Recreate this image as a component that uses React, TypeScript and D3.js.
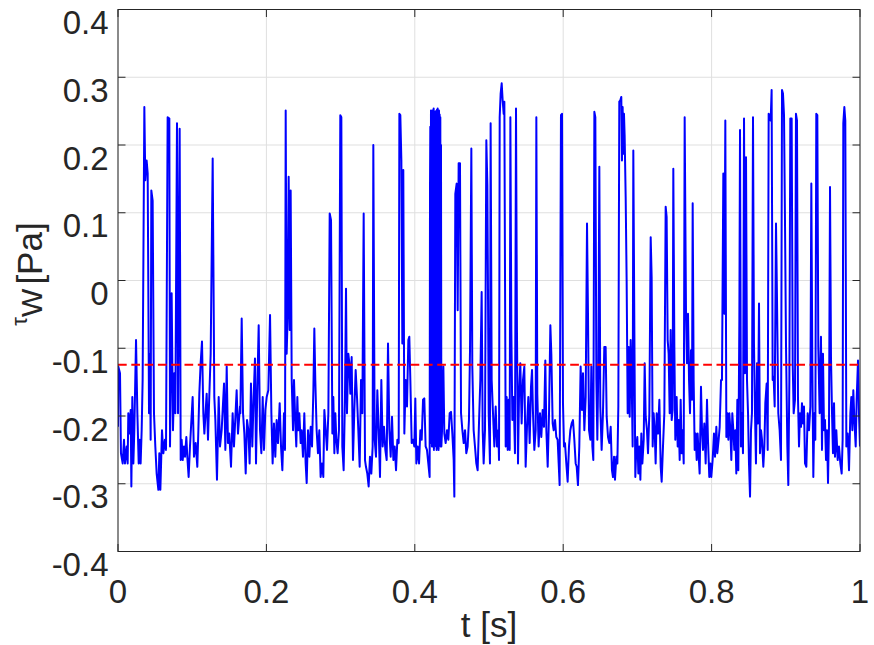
import React from "react";
import * as d3 from "d3";

// Wall shear stress samples [t (s), tau_w (Pa)]
const seg1: [number, number][] = [
  [0, -0.216], [0.0004, -0.127], [0.0027, -0.137], [0.004, -0.255], [0.0063, -0.27], [0.0081, -0.235],
  [0.0094, -0.27], [0.0117, -0.245], [0.013, -0.27], [0.0139, -0.196], [0.0153, -0.226], [0.0171, -0.191],
  [0.018, -0.304], [0.0193, -0.172], [0.0207, -0.27], [0.022, -0.221], [0.0243, -0.088], [0.0261, -0.196],
  [0.0279, -0.27], [0.0292, -0.235], [0.0305, -0.27], [0.0319, -0.221], [0.0332, -0.147], [0.0355, 0.256],
  [0.0368, 0.148], [0.0386, 0.177], [0.04, 0.158], [0.0418, -0.196], [0.0431, -0.108], [0.044, -0.235],
  [0.0449, 0.133], [0.0467, 0.118], [0.0485, -0.196], [0.0503, -0.245], [0.0521, -0.285], [0.0544, -0.309],
  [0.0557, -0.255], [0.0571, -0.309], [0.0593, -0.221], [0.0611, -0.255], [0.0633, -0.235], [0.0647, -0.25],
  [0.0669, 0.241], [0.0692, 0.239], [0.0701, -0.245], [0.0723, -0.019], [0.0741, -0.221], [0.0759, -0.137],
  [0.0773, -0.196], [0.0795, 0.232], [0.0809, -0.196], [0.0831, 0.224], [0.0845, -0.265], [0.0858, -0.235],
  [0.0872, -0.265], [0.0889, -0.245], [0.0903, -0.26], [0.0921, -0.231], [0.0934, -0.26], [0.0952, -0.29],
  [0.097, -0.245], [0.1006, -0.172], [0.1024, -0.26], [0.1047, -0.24], [0.1069, -0.275], [0.1083, -0.221],
  [0.1096, -0.167], [0.1114, -0.122], [0.1132, -0.09], [0.115, -0.196], [0.1164, -0.226], [0.1195, -0.167],
  [0.1213, -0.235], [0.1226, -0.186], [0.1249, -0.108], [0.1276, 0.18], [0.1298, -0.172], [0.1312, -0.206],
  [0.1334, -0.294], [0.1357, -0.172], [0.1375, -0.245], [0.1397, -0.221], [0.1429, -0.152], [0.1447, -0.25],
  [0.1465, -0.127], [0.1482, -0.24], [0.15, -0.226], [0.1523, -0.275], [0.1545, -0.196], [0.1563, -0.245],
  [0.1599, -0.162], [0.1617, -0.226], [0.1644, -0.186],
];

const seg2: [number, number][] = [
  [0.1649, -0.196], [0.1667, -0.056], [0.1685, -0.196], [0.1703, -0.226], [0.1721, -0.285], [0.1739, -0.206],
  [0.1757, -0.221], [0.1774, -0.27], [0.1792, -0.152], [0.181, -0.245], [0.1828, -0.172], [0.1846, -0.115],
  [0.186, -0.27], [0.1878, -0.157], [0.1896, -0.066], [0.1914, -0.221], [0.1932, -0.255], [0.195, -0.172],
  [0.1968, -0.25], [0.1986, -0.191], [0.2004, -0.172], [0.2026, -0.162], [0.2049, -0.051], [0.2067, -0.196],
  [0.2084, -0.27], [0.2102, -0.211], [0.212, -0.26], [0.2138, -0.206], [0.2156, -0.24], [0.2179, -0.181],
  [0.2197, -0.245], [0.2215, -0.28], [0.2237, -0.196], [0.2251, -0.25], [0.226, 0.251], [0.2273, -0.108],
  [0.2287, -0.051], [0.23, 0.153], [0.2314, -0.073], [0.2327, 0.133], [0.2341, -0.147], [0.2359, -0.221],
  [0.2372, -0.147], [0.239, -0.211], [0.2403, -0.245], [0.2417, -0.172], [0.243, -0.221], [0.2444, -0.196],
  [0.2462, -0.24], [0.2475, -0.221], [0.2493, -0.26], [0.2511, -0.196], [0.2529, -0.27], [0.2543, -0.299],
  [0.2561, -0.221], [0.2579, -0.26], [0.2597, -0.216], [0.2615, -0.245], [0.2633, -0.162], [0.2646, -0.071],
  [0.2659, -0.147], [0.2677, -0.221], [0.2695, -0.255], [0.2713, -0.221], [0.2731, -0.29], [0.2749, -0.27],
  [0.2767, -0.29], [0.2781, -0.191], [0.2799, -0.221], [0.2817, -0.25], [0.2835, -0.196], [0.2853, 0.099],
  [0.2871, 0.089], [0.2889, -0.226], [0.2902, -0.172], [0.2916, -0.255], [0.2929, -0.196], [0.2943, -0.235],
  [0.296, -0.255], [0.2978, -0.221], [0.2996, 0.244], [0.301, 0.241], [0.3023, -0.245], [0.3041, -0.28],
  [0.3059, -0.172], [0.3073, -0.012], [0.3086, -0.196], [0.3104, -0.108], [0.3118, -0.122], [0.3131, -0.167],
  [0.3149, -0.113], [0.3167, -0.265], [0.3185, -0.191], [0.3203, -0.132], [0.3221, -0.172], [0.3239, -0.221],
  [0.3257, -0.275], [0.3275, -0.147], [0.3293, -0.196], [0.3311, 0.099], [0.3329, -0.265],
];

const seg3: [number, number][] = [
  [0.3342, -0.275], [0.336, -0.285], [0.3378, -0.304], [0.3396, -0.26], [0.3414, -0.285], [0.3432, -0.245],
  [0.3441, 0.2], [0.3459, -0.235], [0.3477, -0.26], [0.3495, -0.162], [0.3513, -0.221], [0.3531, -0.29],
  [0.3549, -0.147], [0.3567, -0.245], [0.3585, -0.216], [0.3603, -0.25], [0.3621, -0.265], [0.3639, -0.093],
  [0.3657, -0.221], [0.3675, -0.26], [0.3693, -0.201], [0.3711, -0.265], [0.3729, -0.245], [0.3747, -0.28],
  [0.3765, -0.235], [0.3783, -0.24], [0.3792, 0.246], [0.3805, 0.244], [0.3819, 0.177], [0.3832, -0.093],
  [0.3845, 0.163], [0.3859, -0.226], [0.3877, -0.147], [0.3895, -0.186], [0.3913, -0.088], [0.3926, -0.083],
  [0.394, -0.147], [0.3958, -0.24], [0.3976, -0.235], [0.3994, -0.245], [0.4007, -0.174], [0.4021, -0.27],
  [0.4039, -0.245], [0.4057, -0.27], [0.4075, -0.221], [0.4093, -0.235], [0.4111, -0.176], [0.4128, -0.174],
  [0.4146, -0.245], [0.4164, -0.25], [0.4182, -0.27], [0.42, -0.29], [0.4205, 0.14], [0.4209, 0.227],
  [0.4213, -0.2], [0.4218, 0.251], [0.4222, -0.24], [0.4227, 0.25], [0.4231, -0.245], [0.4236, 0.251],
  [0.424, -0.23], [0.4245, 0.248], [0.4249, -0.245], [0.4254, 0.254], [0.4258, -0.25], [0.4263, 0.247],
  [0.4267, -0.24], [0.4272, 0.249], [0.4276, -0.238], [0.4281, 0.25], [0.4285, -0.245], [0.429, 0.246],
  [0.4294, -0.25], [0.4299, 0.252], [0.4303, -0.245], [0.4308, 0.254], [0.4312, -0.24], [0.4317, 0.25],
  [0.4321, -0.25], [0.4326, 0.251], [0.433, -0.235], [0.4335, 0.245], [0.4339, -0.24], [0.4344, 0.241],
  [0.4348, -0.245], [0.4353, 0.2], [0.4358, -0.245], [0.4367, -0.221], [0.4385, -0.127], [0.4398, -0.226],
  [0.4416, -0.24], [0.4434, -0.221], [0.4452, -0.235], [0.447, -0.196], [0.4488, -0.194], [0.4506, -0.226],
  [0.4524, -0.265], [0.4533, -0.319], [0.4546, 0.128], [0.4564, 0.143], [0.4578, -0.044], [0.4591, 0.173],
  [0.4609, 0.173], [0.4623, -0.196], [0.4641, -0.221], [0.4659, -0.24], [0.4677, -0.221], [0.4694, -0.255],
  [0.4712, -0.245], [0.473, -0.206], [0.4744, -0.103], [0.4762, 0.195], [0.4775, -0.127], [0.4793, -0.221],
  [0.4811, -0.245], [0.4829, -0.27], [0.4847, -0.28], [0.4865, -0.211], [0.4883, -0.147], [0.4901, -0.017],
  [0.4915, -0.221], [0.4928, -0.27], [0.4946, -0.221], [0.4964, 0.207], [0.4978, 0.141], [0.4996, -0.196],
  [0.5013, -0.27],
];

const seg4: [number, number][] = [
  [0.5022, 0.232], [0.5036, -0.147], [0.5054, -0.196], [0.5072, -0.245], [0.509, -0.186], [0.5108, -0.245],
  [0.5126, -0.221], [0.5135, -0.265], [0.5144, 0.241], [0.5157, 0.276], [0.5171, 0.291], [0.5184, 0.266],
  [0.5198, 0.246], [0.5207, 0.264], [0.5216, 0.0], [0.5225, -0.245], [0.5238, -0.172], [0.5252, -0.25],
  [0.5265, -0.176], [0.5279, -0.25], [0.5288, 0.241], [0.5301, -0.073], [0.5315, -0.206], [0.5332, -0.172],
  [0.535, -0.255], [0.5364, 0.254], [0.5377, -0.078], [0.5391, -0.27], [0.5404, -0.172], [0.5422, -0.122],
  [0.544, -0.211], [0.5458, -0.147], [0.5476, -0.127], [0.5494, -0.275], [0.5512, -0.216], [0.553, -0.172],
  [0.5548, -0.24], [0.5566, -0.157], [0.558, -0.132], [0.5593, -0.196], [0.5611, -0.25], [0.5629, -0.221],
  [0.5638, 0.241], [0.5651, -0.167], [0.5669, -0.245], [0.5687, -0.196], [0.5705, -0.231], [0.5723, -0.191],
  [0.5741, -0.216], [0.5759, -0.118], [0.5773, -0.221], [0.5791, -0.275], [0.5809, -0.196], [0.5827, -0.066],
  [0.584, -0.108], [0.5858, -0.211], [0.5872, -0.221], [0.589, -0.206], [0.5907, -0.231], [0.5925, -0.235],
  [0.5939, -0.27], [0.5952, -0.302], [0.597, 0.244], [0.5984, 0.246], [0.5997, -0.181], [0.6011, -0.245],
  [0.6024, -0.24], [0.6042, -0.27], [0.606, -0.297], [0.6078, -0.245], [0.6096, -0.221], [0.6114, -0.211],
  [0.6132, -0.206], [0.615, -0.235], [0.6168, -0.27], [0.6182, -0.275], [0.6199, -0.302], [0.6217, -0.245],
  [0.6235, -0.127], [0.6253, -0.191], [0.6267, -0.137], [0.6285, -0.221], [0.6303, -0.172], [0.6321, 0.084],
  [0.6334, -0.049], [0.6348, -0.221], [0.6366, -0.235], [0.6379, -0.127], [0.6393, -0.245], [0.6406, -0.265],
  [0.642, 0.249], [0.6433, 0.241], [0.6447, -0.147], [0.646, -0.235], [0.6474, -0.122], [0.6487, 0.168],
  [0.65, -0.186], [0.6518, -0.25], [0.6536, -0.196], [0.6554, -0.098], [0.6572, -0.098], [0.6586, -0.201],
  [0.6604, -0.231], [0.6622, -0.24], [0.664, -0.216], [0.6657, -0.28], [0.6671, -0.29], [0.6685, -0.26],
  [0.6698, -0.294],
];

const seg5: [number, number][] = [
  [0.6716, -0.26], [0.673, -0.27], [0.6743, -0.186], [0.6756, 0.264], [0.677, 0.266], [0.6783, 0.271],
  [0.6792, 0.177], [0.6801, 0.256], [0.681, 0.187], [0.6819, 0.246], [0.6828, 0.214], [0.6842, 0.123],
  [0.6855, 0.0], [0.6869, -0.196], [0.6882, -0.098], [0.6896, -0.201], [0.6909, -0.088], [0.6923, -0.147],
  [0.6936, -0.245], [0.6945, 0.192], [0.6959, -0.073], [0.6972, -0.29], [0.6986, -0.245], [0.6999, -0.231],
  [0.7013, -0.285], [0.7026, -0.245], [0.704, -0.294], [0.7053, -0.226], [0.7067, -0.27], [0.7085, -0.235],
  [0.7098, -0.122], [0.7112, -0.201], [0.7129, -0.221], [0.7143, -0.255], [0.7161, -0.196], [0.7179, 0.064],
  [0.7192, 0.005], [0.7206, -0.245], [0.7219, -0.196], [0.7233, -0.221], [0.7246, -0.27], [0.726, -0.196],
  [0.7278, -0.226], [0.7296, -0.176], [0.7314, -0.275], [0.7327, -0.297], [0.7345, -0.245], [0.7363, -0.196],
  [0.7381, 0.109], [0.7394, 0.094], [0.7408, -0.088], [0.7421, -0.108], [0.7435, -0.196], [0.7448, -0.073],
  [0.7462, -0.206], [0.7475, -0.191], [0.7484, 0.165], [0.7498, -0.098], [0.7511, -0.235], [0.7529, -0.172],
  [0.7543, -0.245], [0.7556, -0.206], [0.757, -0.265], [0.7583, -0.176], [0.7597, -0.255], [0.761, -0.221],
  [0.7624, -0.27], [0.7637, 0.241], [0.7655, -0.049], [0.7668, -0.122], [0.7682, -0.049], [0.7696, -0.147],
  [0.7709, -0.196], [0.7722, -0.103], [0.7736, -0.176], [0.7745, 0.114], [0.7758, -0.147], [0.7772, -0.25],
  [0.7785, -0.226], [0.7799, -0.265], [0.7812, -0.226], [0.7826, -0.26], [0.7839, -0.285], [0.7857, -0.157],
  [0.7871, -0.221], [0.7884, -0.25], [0.7902, -0.211], [0.792, -0.27], [0.7938, -0.176], [0.7951, -0.235],
  [0.7969, -0.29], [0.7983, -0.27], [0.7996, -0.29], [0.8014, -0.265], [0.8032, -0.226], [0.8046, -0.26],
  [0.8064, -0.216], [0.8077, -0.255], [0.8095, -0.235], [0.8109, -0.216], [0.8127, -0.147], [0.814, -0.147],
  [0.8158, 0.158], [0.8172, -0.049], [0.8185, 0.236], [0.8199, -0.231], [0.8212, -0.196], [0.8226, -0.235],
  [0.8239, -0.196], [0.8253, -0.221], [0.8266, -0.265], [0.8279, -0.196], [0.8293, -0.221], [0.8306, -0.25],
  [0.832, -0.221], [0.8333, -0.285], [0.8347, -0.176], [0.836, -0.28], [0.8374, -0.059],
];

const seg6: [number, number][] = [
  [0.8383, 0.222], [0.8396, -0.245], [0.841, -0.196], [0.8423, -0.255], [0.8437, 0.239], [0.845, -0.137],
  [0.8464, 0.182], [0.8477, -0.147], [0.8491, -0.196], [0.8504, -0.27], [0.8518, -0.319], [0.8531, -0.221],
  [0.8544, -0.196], [0.8558, 0.241], [0.8571, -0.093], [0.8585, -0.196], [0.8598, -0.27], [0.8612, -0.122],
  [0.8625, -0.211], [0.8639, -0.034], [0.8652, -0.255], [0.8666, -0.221], [0.8679, -0.235], [0.8697, -0.275],
  [0.8711, -0.245], [0.8724, -0.181], [0.8742, -0.152], [0.8756, -0.25], [0.8769, 0.246], [0.8783, 0.244],
  [0.8796, 0.236], [0.8809, 0.281], [0.8823, -0.147], [0.8836, -0.142], [0.885, -0.186], [0.8868, 0.084],
  [0.8881, -0.024], [0.8899, -0.196], [0.8917, -0.221], [0.8935, -0.265], [0.8949, 0.281], [0.8962, 0.276],
  [0.8976, 0.244], [0.8989, 0.089], [0.9003, -0.098], [0.9021, -0.245], [0.9034, -0.302], [0.9048, -0.147],
  [0.9061, 0.239], [0.9079, 0.239], [0.9093, -0.122], [0.9106, -0.196], [0.9124, -0.176], [0.9137, 0.246],
  [0.9151, 0.236], [0.9164, -0.172], [0.9178, -0.245], [0.9191, -0.196], [0.9205, -0.216], [0.9218, -0.181],
  [0.9232, -0.211], [0.9245, -0.186], [0.9259, -0.27], [0.9277, -0.275], [0.9295, -0.196], [0.9313, -0.221],
  [0.9331, -0.186], [0.9344, 0.143], [0.9358, -0.132], [0.9371, -0.29], [0.9384, -0.196], [0.9398, -0.235],
  [0.9411, 0.246], [0.9425, 0.244], [0.9438, -0.098], [0.9456, -0.196], [0.9474, -0.083], [0.9488, -0.25],
  [0.9501, -0.108], [0.9515, -0.221], [0.9528, -0.206], [0.9542, -0.265], [0.9555, -0.221], [0.9569, -0.299],
  [0.9582, -0.216], [0.9596, 0.138], [0.9609, -0.113], [0.9623, -0.196], [0.9636, -0.255], [0.965, -0.181],
  [0.9663, -0.26], [0.9681, -0.221], [0.9699, -0.265], [0.9717, -0.245], [0.9735, -0.27], [0.9753, -0.285],
  [0.9766, -0.235], [0.9775, 0.232], [0.9789, 0.256], [0.9802, 0.236], [0.9816, -0.245], [0.9834, -0.226],
  [0.9852, -0.28], [0.987, -0.196], [0.9883, -0.172], [0.9897, -0.221], [0.991, -0.162], [0.9924, -0.206],
  [0.9942, -0.245], [0.9955, -0.176], [0.9973, -0.118], [0.9986, -0.196], [1.0, -0.245],
];

const meanTau = -0.1245;
const xTicks = [0, 0.2, 0.4, 0.6, 0.8, 1];
const yTicks = [-0.4, -0.3, -0.2, -0.1, 0, 0.1, 0.2, 0.3, 0.4];
const xTickLabels = ["0", "0.2", "0.4", "0.6", "0.8", "1"];
const yTickLabels = ["-0.4", "-0.3", "-0.2", "-0.1", "0", "0.1", "0.2", "0.3", "0.4"];

const W = 874;
const H = 645;
const L = 118;
const R = 860;
const T = 9.5;
const B = 551.5;
const AX = "#262626";
const FONT = "'Liberation Sans', Arial, Helvetica, sans-serif";

export default function App() {
  const x = d3.scaleLinear().domain([0, 1]).range([L, R]);
  const y = d3.scaleLinear().domain([-0.4, 0.4]).range([B, T]);
  const data = [...seg1, ...seg2, ...seg3, ...seg4, ...seg5, ...seg6];
  const line = d3
    .line<[number, number]>()
    .x((d) => x(d[0]))
    .y((d) => y(d[1]));
  const tl = 7.5;

  return (
    <div style={{ position: "absolute", left: 0, top: 0 }}>
      <svg width={W} height={H} style={{ display: "block", background: "#fff" }}>
        <rect x={0} y={0} width={W} height={H} fill="#fff" />
        <defs>
          <clipPath id="plotclip">
            <rect x={L} y={T} width={R - L} height={B - T} />
          </clipPath>
        </defs>
        {/* grid */}
        <g stroke="#dfdfdf" strokeWidth={1}>
          {xTicks.map((t, i) => (
            <line key={"gx" + i} x1={x(t)} x2={x(t)} y1={T} y2={B} />
          ))}
          {yTicks.map((t, i) => (
            <line key={"gy" + i} x1={L} x2={R} y1={y(t)} y2={y(t)} />
          ))}
        </g>
        <g clipPath="url(#plotclip)">
          <path d={line(data) || ""} fill="none" stroke="#0000ff" strokeWidth={2} strokeLinejoin="round" />
          <line
            x1={x(0)}
            x2={x(1)}
            y1={y(meanTau)}
            y2={y(meanTau)}
            stroke="#ff0000"
            strokeWidth={2}
            strokeDasharray="8.7 4.6"
          />
        </g>
        {/* axes box and ticks */}
        <g stroke={AX} strokeWidth={1} fill="none">
          <rect x={L} y={T} width={R - L} height={B - T} />
          {xTicks.map((t, i) => (
            <g key={"tx" + i}>
              <line x1={x(t)} x2={x(t)} y1={B} y2={B - tl} />
              <line x1={x(t)} x2={x(t)} y1={T} y2={T + tl} />
            </g>
          ))}
          {yTicks.map((t, i) => (
            <g key={"ty" + i}>
              <line x1={L} x2={L + tl} y1={y(t)} y2={y(t)} />
              <line x1={R} x2={R - tl} y1={y(t)} y2={y(t)} />
            </g>
          ))}
        </g>
        {/* tick labels */}
        <g fill={AX} fontFamily={FONT} fontSize={33}>
          {xTicks.map((t, i) => (
            <text key={"lx" + i} x={x(t)} y={603} textAnchor="middle">
              {xTickLabels[i]}
            </text>
          ))}
          {yTicks.map((t, i) => (
            <text key={"ly" + i} x={108.5} y={y(t) + 24.5} textAnchor="end">
              {yTickLabels[i]}
            </text>
          ))}
        </g>
        {/* axis labels */}
        <text x={(L + R) / 2} y={637} textAnchor="middle" fill={AX} fontFamily={FONT} fontSize={35}>
          t [s]
        </text>
        <g transform="translate(42, 274) rotate(-90)">
          <text textAnchor="middle" fill={AX} fontFamily={FONT} fontSize={35}>
            <tspan fontSize={22} dy={-15}>τ</tspan>
            <tspan fontSize={30} dy={15}>W</tspan>
            <tspan dx={4}>[Pa]</tspan>
          </text>
        </g>
      </svg>
    </div>
  );
}
